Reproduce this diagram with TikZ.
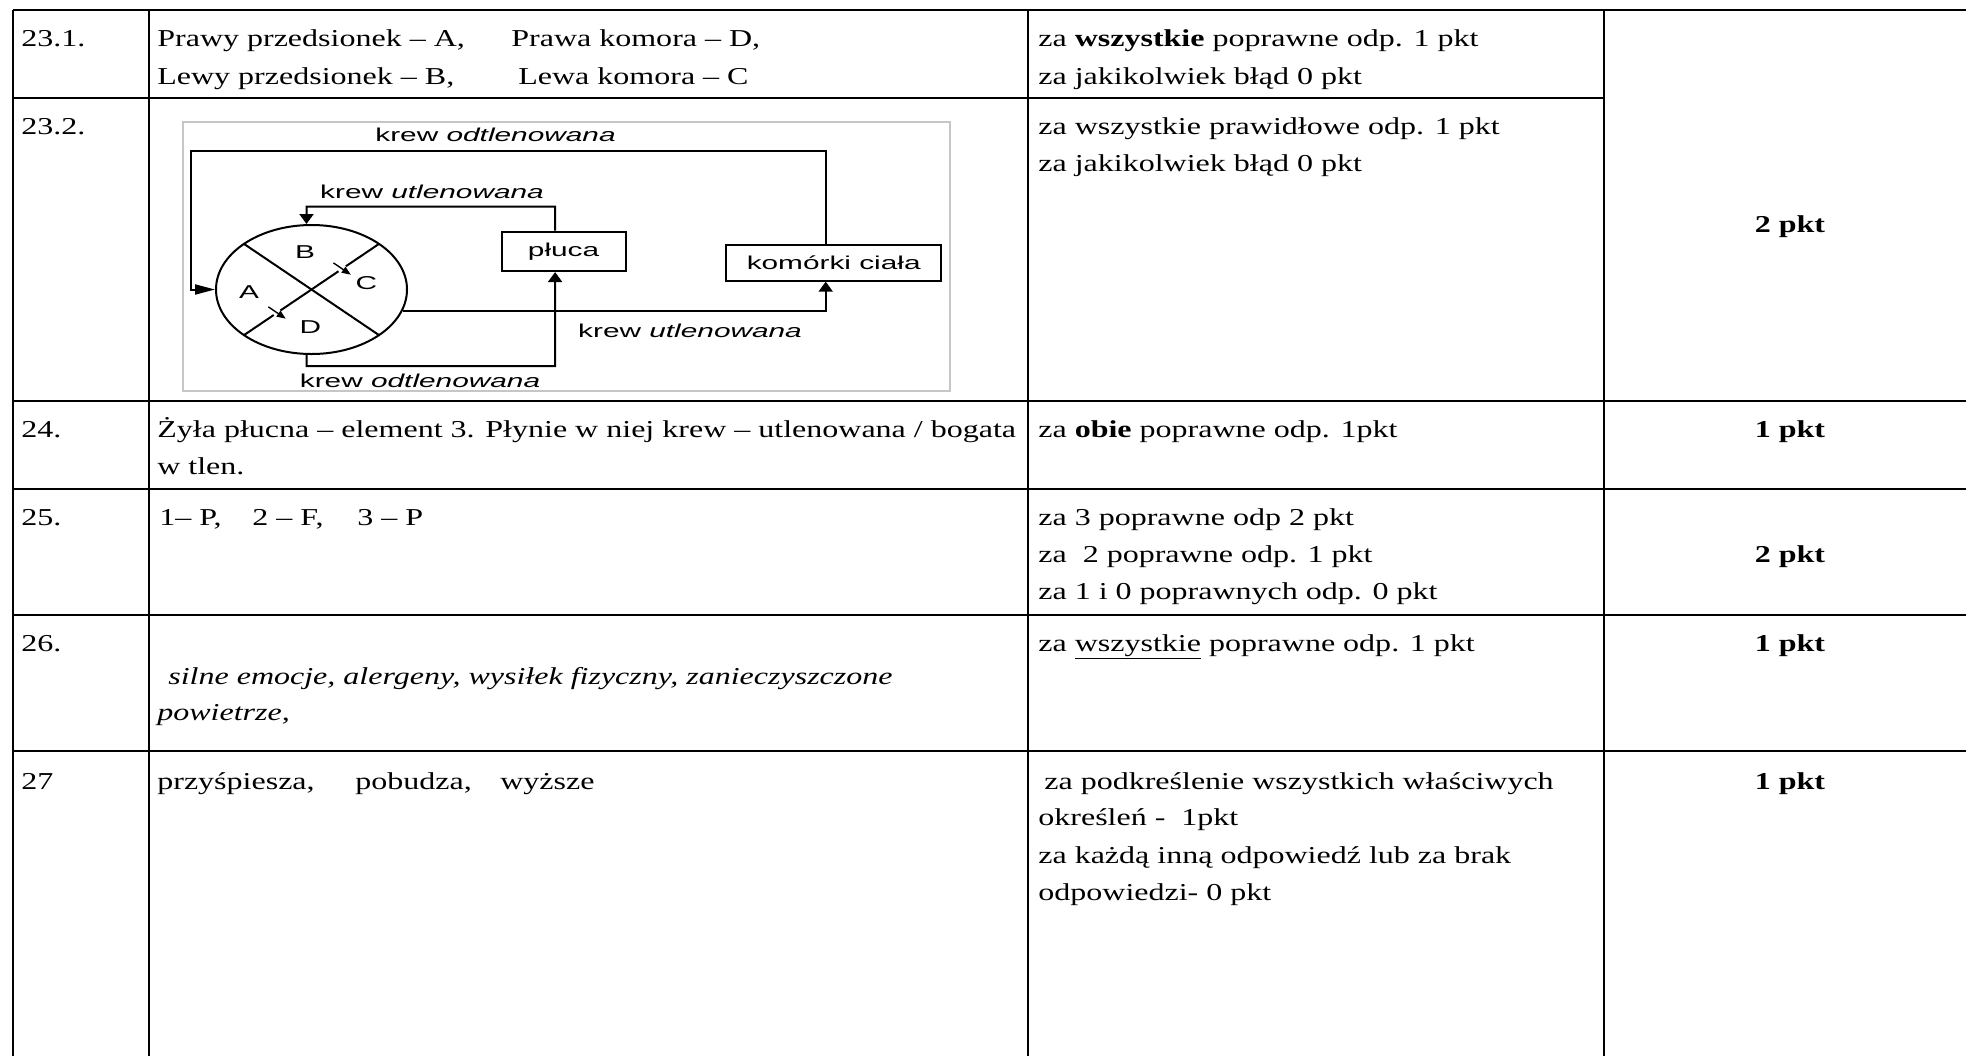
\documentclass[tikz,border=0pt]{standalone}
\usepackage{fontspec}
\setmainfont{Liberation Serif}[FakeStretch=1.32]
\newfontfamily\diagfont{Liberation Sans}[FakeStretch=1.6]
\usetikzlibrary{arrows.meta,shapes.geometric,calc}
\tikzset{
  rule/.style={line width=0.26mm},
  cell/.style={anchor=base west, inner sep=0pt, font=\fontsize{13.8}{21}\selectfont},
  score/.style={anchor=base, inner sep=0pt, font=\fontsize{13.8}{21}\selectfont\bfseries},
  flowtext/.style={anchor=base, inner sep=0pt, font=\diagfont\fontsize{10.6}{12}\selectfont},
  chamber/.style={inner sep=0pt, font=\diagfont\fontsize{10.6}{12}\selectfont},
  pipe/.style={line width=0.4mm},
  organ/.style={draw, pipe, inner sep=0pt, font=\diagfont\fontsize{10.6}{12}\selectfont},
  hflow/.style={pipe, -{Triangle[length=4mm,width=2mm]}},
  vflow/.style={pipe, -{Triangle[length=2mm,width=2.8mm]}},
  valve/.style={line width=0.28mm, -{Triangle[length=1.8mm,width=1.4mm]}}
}
\begin{document}
\begin{tikzpicture}[x=0.2mm, y=-0.2mm]
\useasboundingbox (0,0) rectangle (1966,1056);

\foreach \x in {13,149,1028,1604}
  \draw[rule] (\x,10) -- (\x,1056);
\draw[line width=0.55mm] (13,10) -- (1966,10);
\draw[rule] (13,98) -- (1604,98);
\foreach \y in {401,489,615}
  \draw[rule] (13,\y) -- (1966,\y);
\draw[rule] (13,751) -- (1604,751);
\draw[line width=0.45mm] (1604,751) -- (1966,751);

\node[cell] (n231) at (21,46.6) {23.1.};
\node[cell] (a231a) at (157,46.6) {Prawy przedsionek – A,};
\node[cell] (a231b) at (511,46.6) {Prawa komora – D,};
\node[cell] (a231c) at (157,84.2) {Lewy przedsionek – B,};
\node[cell] (a231d) at (518,84.2) {Lewa komora – C};
\node[cell] (k231a) at (1038,46.6) {za \textbf{wszystkie} poprawne odp. 1 pkt};
\node[cell] (k231b) at (1038,84.2) {za jakikolwiek błąd 0 pkt};

\node[cell] (n232) at (21,134) {23.2.};
\node[cell] (k232a) at (1038,134) {za wszystkie prawidłowe odp. 1 pkt};
\node[cell] (k232b) at (1038,171) {za jakikolwiek błąd 0 pkt};
\node[score] (p23) at (1790,232) {2 pkt};

\node[cell] (n24) at (21,437) {24.};
\node[cell] (a24a) at (157,437) {Żyła płucna – element 3. Płynie w niej krew – utlenowana / bogata};
\node[cell] (a24b) at (157,474) {w tlen.};
\node[cell] (k24) at (1038,437) {za \textbf{obie} poprawne odp. 1pkt};
\node[score] (p24) at (1790,437) {1 pkt};

\node[cell] (n25) at (21,525) {25.};
\node[cell] (a25a) at (159,525) {1– P,};
\node[cell] (a25b) at (252,525) {2 – F,};
\node[cell] (a25c) at (357,525) {3 – P};
\node[cell] (k25a) at (1038,525) {za 3 poprawne odp 2 pkt};
\node[cell] (k25b) at (1038,562) {za \ 2 poprawne odp. 1 pkt};
\node[cell] (k25c) at (1038,599) {za 1 i 0 poprawnych odp. 0 pkt};
\node[score] (p25) at (1790,562) {2 pkt};

\node[cell] (n26) at (21,651) {26.};
\node[cell] (a26a) at (168,684) {\itshape silne emocje, alergeny, wysiłek fizyczny, zanieczyszczone};
\node[cell] (a26b) at (157,720) {\itshape powietrze,};
\node[cell] (k26) at (1038,651) {za \underline{wszystkie} poprawne odp. 1 pkt};
\node[score] (p26) at (1790,651) {1 pkt};

\node[cell] (n27) at (21,789) {27};
\node[cell] (a27a) at (157,789) {przyśpiesza,};
\node[cell] (a27b) at (355,789) {pobudza,};
\node[cell] (a27c) at (500,789) {wyższe};
\node[cell] (k27a) at (1044,789) {za podkreślenie wszystkich właściwych};
\node[cell] (k27b) at (1038,825) {określeń - \ 1pkt};
\node[cell] (k27c) at (1038,863) {za każdą inną odpowiedź lub za brak};
\node[cell] (k27d) at (1038,900) {odpowiedzi- 0 pkt};
\node[score] (p27) at (1790,789) {1 pkt};

\draw[gray!45, line width=0.3mm] (183,122) rectangle (950,391);

\node[ellipse, draw, pipe, minimum width=38.2mm, minimum height=25.8mm, inner sep=0pt] (heart) at (311.5,289.5) {};
\coordinate (ul) at ($(heart.center)+(-67.5,-45.6)$);
\coordinate (lr) at ($(heart.center)+(67.5,45.6)$);
\coordinate (ll) at ($(heart.center)+(-67.5,45.6)$);
\coordinate (ur) at ($(heart.center)+(67.5,-45.6)$);
\draw[pipe] (ul) -- (lr);
\draw[pipe] (ll) -- ($(ll)!0.22!(ur)$)
            ($(ll)!0.27!(ur)$) -- ($(ll)!0.70!(ur)$)
            ($(ll)!0.755!(ur)$) -- (ur);
\draw[valve] ($(ll)!0.245!(ur)+(-8.7,-5.9)$) -- ++(17.4,11.8);
\draw[valve] ($(ll)!0.727!(ur)+(-8.7,-5.9)$) -- ++(17.4,11.8);
\node[chamber] (chA) at (249,291.7) {A};
\node[chamber] (chB) at (305,251.7) {B};
\node[chamber] (chC) at (366.4,283.3) {C};
\node[chamber] (chD) at (310.3,326.7) {D};

\node[organ, minimum width=24.8mm, minimum height=7.9mm] (pluca) at (563.6,251.3) {płuca};
\node[organ, minimum width=43mm, minimum height=7.1mm] (komorki) at (833.7,262.9) {komórki ciała};

\coordinate (bodyturn) at (191,151);
\coordinate (lungturn) at (306.5,206.7);
\coordinate (lungback) at (555,366);

\draw[hflow] ([xshift=-1.6mm]komorki.north) |- (bodyturn) |- (heart.west);
\draw[vflow] ([xshift=-1.7mm]pluca.north) |- (lungturn) -- ([xshift=-1mm]heart.north);
\draw[vflow] ([xshift=-1mm]heart.south) |- (lungback) -- ([xshift=-1.7mm]pluca.south);
\draw[vflow] (heart.-13) -| ([xshift=-1.6mm]komorki.south);

\node[flowtext] (odtop) at (495.5,141.7) {krew \textit{odtlenowana}};
\node[flowtext] (utltop) at (432,198.3) {krew \textit{utlenowana}};
\node[flowtext] (utlbot) at (690,337.7) {krew \textit{utlenowana}};
\node[flowtext] (odbot) at (420,387) {krew \textit{odtlenowana}};
\end{tikzpicture}
\end{document}
